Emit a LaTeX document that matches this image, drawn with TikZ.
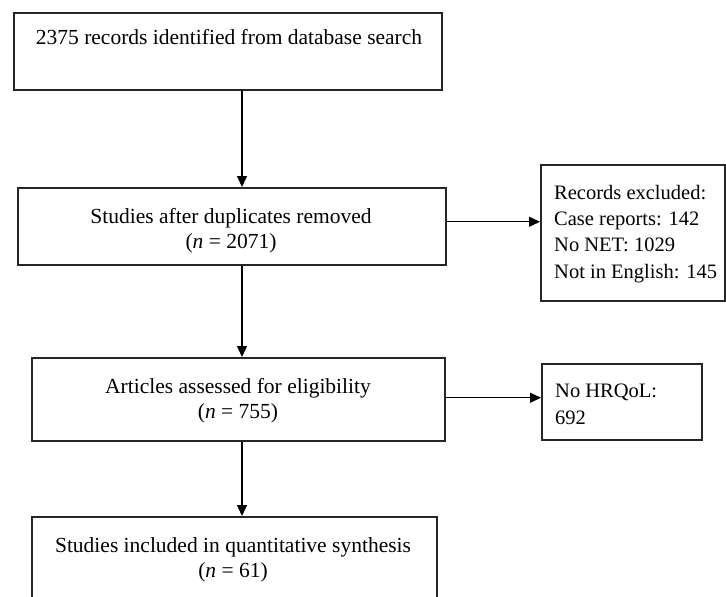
\documentclass[tikz,border=0pt]{standalone}
\usepackage{fontspec}
\setmainfont{Liberation Serif}
\usetikzlibrary{arrows.meta}
\begin{document}
\begin{tikzpicture}[x=1pt,y=-1pt,
  box/.style={draw=black!85, line width=1.5pt, rectangle, inner sep=0pt, anchor=north west},
  txt/.style={inner sep=0pt, font=\fontsize{21.5}{25}\selectfont, align=center, anchor=base},
  ltxt/.style={inner sep=0pt, font=\fontsize{20.5}{26.3}\selectfont, align=left, anchor=base west},
  arr/.style={draw=black, line width=1.4pt, -{Triangle[length=11pt,width=10pt]}}]
\useasboundingbox (0,0) rectangle (726,597);
% boxes
\node[box, minimum width=428pt, minimum height=77pt] (b1) at (13,12) {};
\node[box, minimum width=428pt, minimum height=77pt] (b2) at (17,187) {};
\node[box, minimum width=184pt, minimum height=136pt] (b3) at (540,164) {};
\node[box, minimum width=413pt, minimum height=83pt] (b4) at (31,357) {};
\node[box, minimum width=160pt, minimum height=76pt] (b5) at (541,363) {};
\node[box, minimum width=405pt, minimum height=100pt] (b6) at (31,516) {};
% texts (anchor = baseline of the last line)
\node[txt] (t1) at (229,45) {2375 records identified from database search};
\node[txt] (t2) at (231,248) {Studies after duplicates removed\\(\textit{n} = 2071)};
\node[ltxt] (t3) at (554,278) {Records excluded:\\Case reports: 142\\No NET: 1029\\Not in English: 145};
\node[txt] (t4) at (238,418) {Articles assessed for eligibility\\(\textit{n} = 755)};
\node[ltxt] (t5) at (555,424) {No HRQoL:\\692};
\node[txt] (t6) at (233,577) {Studies included in quantitative synthesis\\(\textit{n} = 61)};
% connectors
\coordinate (spine) at (242,0);
\coordinate (r1) at ([yshift=4.5pt]b2.east);
\coordinate (r2) at ([yshift=1.5pt]b4.east);
\draw[arr] (b1.south -| spine) -- (b2.north -| spine);
\draw[arr] (b2.south -| spine) -- (b4.north -| spine);
\draw[arr] (b4.south -| spine) -- (b6.north -| spine);
\draw[arr] (r1) -- (b3.west |- r1);
\draw[arr] (r2) -- (b5.west |- r2);
\end{tikzpicture}
\end{document}
